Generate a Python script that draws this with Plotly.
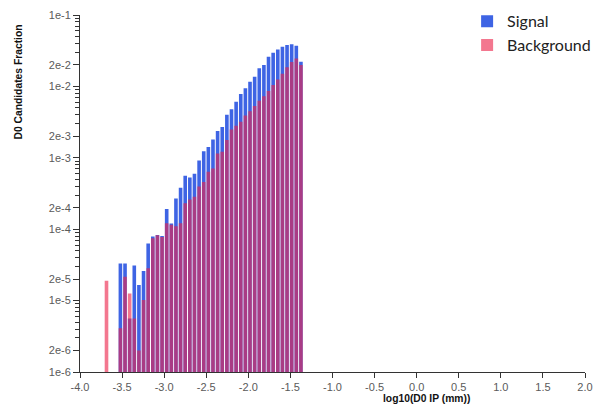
import plotly.graph_objects as go

# ---- data ----
bin_centers = [-3.685, -3.520, -3.465, -3.410, -3.355, -3.300, -3.245, -3.190, -3.135, -3.080,
               -3.025, -2.970, -2.915, -2.860, -2.805, -2.750, -2.695, -2.640, -2.585, -2.530,
               -2.475, -2.420, -2.365, -2.310, -2.255, -2.200, -2.145, -2.090, -2.035, -1.980,
               -1.925, -1.870, -1.815, -1.760, -1.705, -1.650, -1.595, -1.540, -1.485, -1.430,
               -1.375]

signal = [None, 3.3e-5, 3.3e-5, 5.6e-6, 3.1e-5, 1.65e-5, 2.6e-5, 6.3e-5, 7.9e-5, 8.3e-5,
          8.0e-5, 1.92e-4, 1.2e-4, 2.7e-4, 3.8e-4, 5.6e-4, 5.3e-4, 6.0e-4, 9.2e-4, 1.24e-3,
          1.42e-3, 1.81e-3, 2.37e-3, 2.7e-3, 4.0e-3, 4.8e-3, 6.1e-3, 7.8e-3, 9.4e-3, 1.16e-2,
          1.37e-2, 1.79e-2, 2.0e-2, 2.6e-2, 2.97e-2, 3.3e-2, 3.6e-2, 3.8e-2, 3.88e-2, 3.7e-2,
          2.22e-2]

background = [1.9e-5, 4.1e-6, 2.16e-5, 1.26e-5, 5.6e-6, 2.0e-6, 1.02e-5, 2.83e-5, 7.45e-5, 8.2e-5,
              7.8e-5, 1.21e-4, 1.15e-4, 1.1e-4, 1.21e-4, 2.3e-4, 2.6e-4, 2.85e-4, 3.95e-4, 4.6e-4,
              6.4e-4, 7.1e-4, 1.15e-3, 1.22e-3, 1.77e-3, 2.5e-3, 2.8e-3, 3.2e-3, 3.9e-3, 4.5e-3,
              5.3e-3, 6.3e-3, 7.3e-3, 8.6e-3, 1.05e-2, 1.25e-2, 1.5e-2, 1.85e-2, 2.2e-2, 2.45e-2,
              2.0e-2]

x_tick_vals = [-4.0, -3.5, -3.0, -2.5, -2.0, -1.5, -1.0, -0.5, 0.0, 0.5, 1.0, 1.5, 2.0]
x_tick_text = ["-4.0", "-3.5", "-3.0", "-2.5", "-2.0", "-1.5", "-1.0", "-0.5", "0.0", "0.5", "1.0", "1.5", "2.0"]

y_tick_vals = [1e-6, 2e-6, 1e-5, 2e-5, 1e-4, 2e-4, 1e-3, 2e-3, 1e-2, 2e-2, 1e-1]
y_tick_text = ["1e-6", "2e-6", "1e-5", "2e-5", "1e-4", "2e-4", "1e-3", "2e-3", "1e-2", "2e-2", "1e-1"]

series_names = ["Signal", "Background"]

# ---- figure ----
fig = go.Figure()
fig.add_trace(go.Bar(x=bin_centers, y=signal, name=series_names[0], width=0.043,
                     marker=dict(color="rgb(62,100,228)", line=dict(width=0))))
fig.add_trace(go.Bar(x=bin_centers, y=background, name=series_names[1], width=0.043,
                     marker=dict(color="rgba(235,35,75,0.62)", line=dict(width=0))))

tick_font = dict(family="Liberation Sans, Arial, sans-serif", size=11, color="#5a5a5a")
title_font = dict(family="Liberation Sans, Arial, sans-serif", size=10.3, color="#111")

fig.update_layout(
    width=594, height=414,
    barmode="overlay",
    paper_bgcolor="white", plot_bgcolor="white",
    margin=dict(l=79.5, r=9, t=15, b=42, autoexpand=False),
    showlegend=True,
    legend=dict(x=1.022, xanchor="right", y=1.03, yanchor="top",
                font=dict(family="Lato, Noto Sans, sans-serif", size=16, color="#222"),
                bgcolor="rgba(0,0,0,0)", tracegroupgap=0, itemwidth=30),
    xaxis=dict(range=[-4.0, 2.0], tickvals=x_tick_vals, ticktext=x_tick_text,
               showline=True, linecolor="#333", linewidth=1, ticks="outside", ticklen=5,
               tickcolor="#333", showgrid=False, zeroline=False, tickfont=tick_font,
               automargin=False),
    yaxis=dict(type="log", range=[-6, -1], tickvals=y_tick_vals, ticktext=y_tick_text,
               showline=True, linecolor="#333", linewidth=1, ticks="outside", ticklen=6,
               tickcolor="#333", showgrid=False, zeroline=False, tickfont=tick_font,
               automargin=False,
               minor=dict(ticks="outside", ticklen=4, tickcolor="#333", dtick="D1", showgrid=False)),
    annotations=[
        dict(text="<b>log10(D0 IP (mm))</b>", xref="paper", yref="paper", x=0.687, y=-0.074,
             xanchor="center", yanchor="middle", showarrow=False, font=title_font),
        dict(text="<b>D0 Candidates Fraction</b>", xref="paper", yref="paper", x=-0.122, y=0.812,
             xanchor="center", yanchor="middle", textangle=-90, showarrow=False, font=title_font),
    ],
)

fig.write_html("out.html", config={"displayModeBar": False},
               post_script="document.body.style.margin='0';document.body.style.overflow='hidden';")
